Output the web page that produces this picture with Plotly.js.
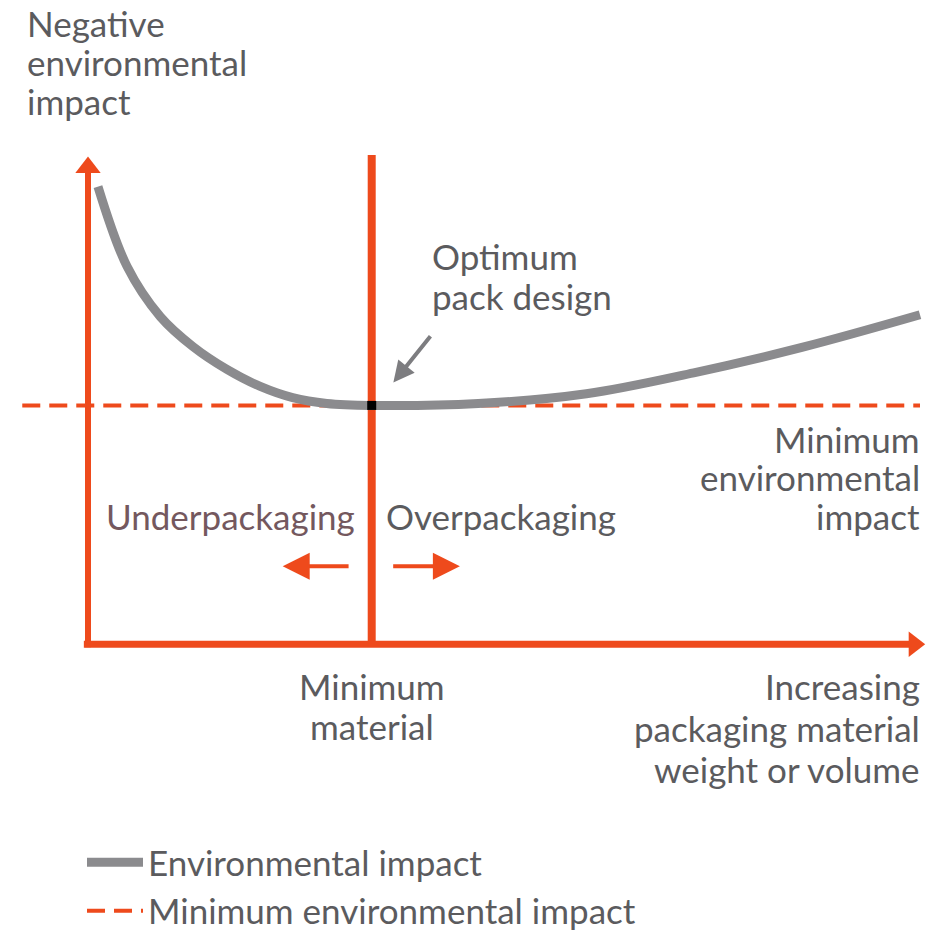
<!DOCTYPE html>
<html>
<head>
<meta charset="utf-8">
<script src="https://cdn.plot.ly/plotly-3.0.1.min.js"></script>
<style>html,body{margin:0;padding:0;background:#fff;}#chart{width:935px;height:940px;}</style>
</head>
<body>
<div id="chart"></div>
<script>
// ---- data (abstract units: x = packaging material, y = environmental impact) ----
const materialLevels = [0.12, 0.47, 0.87, 1.26, 1.67, 2.07, 2.46, 2.87, 3.41, 4.69, 5.99, 7.28, 8.58, 10.0];
const impactValues   = [9.39, 7.75, 6.72, 6.11, 5.64, 5.29, 5.06, 4.94, 4.90, 4.94, 5.14, 5.57, 6.09, 6.76];
const minMaterial = 3.41;
const minImpact = 4.90;
const dashedExtent = [-0.79, 10.0];
const yAxisExtent = [-0.06, 9.75];
const xAxisExtent = [-0.05, 9.9];
const verticalExtent = [0, 10.04];
const xArrowTip = [9.93, 0];
const yArrowTip = [0, 9.78];
const seriesNames = ['Environmental impact', 'Minimum environmental impact'];

const ORANGE = '#ee4a1c';
const GRAY = '#8b8b8e';
const TEXT = '#5b5b5e';
const FONT = 'Lato, "Open Sans", sans-serif';
const FS = 35;

const traces = [
  { x: [minMaterial, minMaterial], y: verticalExtent, mode: 'lines',
    line: {color: ORANGE, width: 8}, showlegend: false, hoverinfo: 'skip' },
  { x: [0, 0], y: yAxisExtent, mode: 'lines',
    line: {color: ORANGE, width: 6}, showlegend: false, hoverinfo: 'skip' },
  { x: xAxisExtent, y: [0, 0], mode: 'lines',
    line: {color: ORANGE, width: 7}, showlegend: false, hoverinfo: 'skip' },
  { x: [yArrowTip[0]], y: [yArrowTip[1]], mode: 'markers',
    marker: {symbol: 'triangle-up', size: 22, color: ORANGE}, showlegend: false, hoverinfo: 'skip' },
  { x: [xArrowTip[0]], y: [xArrowTip[1]], mode: 'markers',
    marker: {symbol: 'triangle-right', size: 22, color: ORANGE}, showlegend: false, hoverinfo: 'skip' },
  { x: dashedExtent, y: [minImpact, minImpact], mode: 'lines', name: seriesNames[1],
    line: {color: ORANGE, width: 4, dash: '18px,9px'}, legendrank: 2, showlegend: true },
  { x: materialLevels, y: impactValues, mode: 'lines', name: seriesNames[0],
    line: {color: GRAY, width: 9, shape: 'spline', smoothing: 1.0}, legendrank: 1, showlegend: true },
  { x: [minMaterial], y: [minImpact], mode: 'markers',
    marker: {symbol: 'square', size: 9, color: '#000'}, showlegend: false, hoverinfo: 'skip' }
];

function px(x){ return x/935; }
function py(y){ return 1 - y/940; }

const annotations = [];
function addLines(lines, x, centers, anchor, color) {
  lines.forEach((t, i) => annotations.push({
    text: t, xref: 'paper', yref: 'paper', x: px(x), y: py(centers[i]),
    xanchor: anchor, yanchor: 'middle', align: anchor === 'center' ? 'center' : anchor,
    showarrow: false, font: {family: FONT, size: FS, color: color || TEXT}
  }));
}

addLines(['Negative', 'environmental', 'impact'], 25, [23, 62, 101], 'left');
addLines(['Optimum', 'pack design'], 430, [256, 296], 'left');
addLines(['Underpackaging'], 357, [517], 'right', '#74585e');
addLines(['Overpackaging'], 384, [517], 'left');
addLines(['Minimum', 'environmental', 'impact'], 922, [439, 478, 517], 'right');
addLines(['Minimum', 'material'], 372, [687, 727], 'center');
addLines(['Increasing', 'packaging material', 'weight or volume'], 922, [687, 729, 770], 'right');

// small direction arrows
annotations.push(
  { x: 2.34, y: 1.6, ax: 3.15, ay: 1.6, xref: 'x', yref: 'y', axref: 'x', ayref: 'y',
    showarrow: true, arrowhead: 2, arrowsize: 1.35, arrowwidth: 4, arrowcolor: ORANGE, text: '' },
  { x: 4.47, y: 1.6, ax: 3.65, ay: 1.6, xref: 'x', yref: 'y', axref: 'x', ayref: 'y',
    showarrow: true, arrowhead: 2, arrowsize: 1.35, arrowwidth: 4, arrowcolor: ORANGE, text: '' },
  // pointer to optimum
  { x: 3.67, y: 5.37, ax: 4.13, ay: 6.35, xref: 'x', yref: 'y', axref: 'x', ayref: 'y',
    showarrow: true, arrowhead: 2, arrowsize: 1.05, arrowwidth: 4, arrowcolor: '#7d7d80', text: '' }
);

const layout = {
  width: 935, height: 940,
  margin: {l: 0, r: 0, t: 0, b: 0},
  paper_bgcolor: '#ffffff', plot_bgcolor: '#ffffff',
  xaxis: {range: [-1.0577, 10.1803], visible: false, fixedrange: true},
  yaxis: {range: [-6.045, 13.217], visible: false, fixedrange: true},
  showlegend: true,
  legend: {
    x: px(82), y: py(834), xanchor: 'left', yanchor: 'top',
    traceorder: 'normal', tracegroupgap: 0,
    font: {family: FONT, size: FS, color: TEXT},
    bgcolor: 'rgba(0,0,0,0)', itemwidth: 56
  },
  annotations
};

Plotly.newPlot('chart', traces, layout, {staticPlot: true});
</script>
</body>
</html>
